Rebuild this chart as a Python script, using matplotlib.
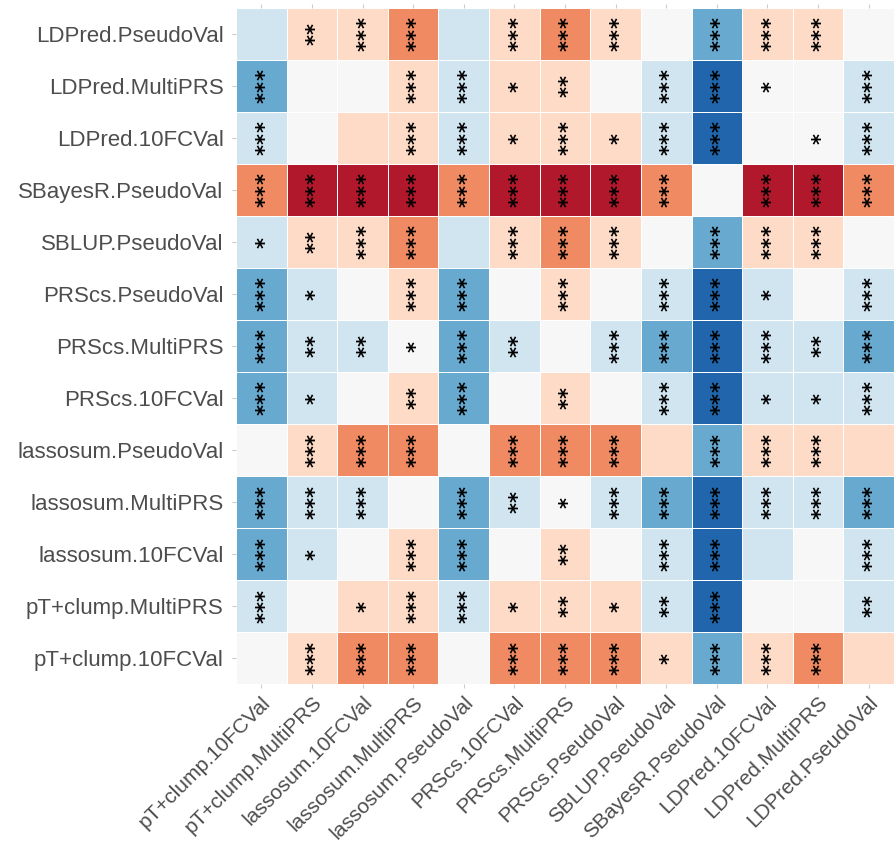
import numpy as np
import matplotlib
matplotlib.use("Agg")
import matplotlib.pyplot as plt
from matplotlib.colors import ListedColormap, BoundaryNorm

# methods, bottom-to-top on the y axis and left-to-right on the x axis
methods = ["pT+clump.10FCVal", "pT+clump.MultiPRS", "lassosum.10FCVal",
           "lassosum.MultiPRS", "lassosum.PseudoVal", "PRScs.10FCVal",
           "PRScs.MultiPRS", "PRScs.PseudoVal", "SBLUP.PseudoVal",
           "SBayesR.PseudoVal", "LDPred.10FCVal", "LDPred.MultiPRS",
           "LDPred.PseudoVal"]

# colour level per cell (rows listed top to bottom), -3 = strong blue ... 3 = strong red
levels = [
    [-1, 1, 1, 2, -1, 1, 2, 1, 0, -2, 1, 1, 0],      # LDPred.PseudoVal
    [-2, 0, 0, 1, -1, 1, 1, 0, -1, -3, 0, 0, -1],    # LDPred.MultiPRS
    [-1, 0, 1, 1, -1, 1, 1, 1, -1, -3, 0, 0, -1],    # LDPred.10FCVal
    [2, 3, 3, 3, 2, 3, 3, 3, 2, 0, 3, 3, 2],         # SBayesR.PseudoVal
    [-1, 1, 1, 2, -1, 1, 2, 1, 0, -2, 1, 1, 0],      # SBLUP.PseudoVal
    [-2, -1, 0, 1, -2, 0, 1, 0, -1, -3, -1, 0, -1],  # PRScs.PseudoVal
    [-2, -1, -1, 0, -2, -1, 0, -1, -2, -3, -1, -1, -2],  # PRScs.MultiPRS
    [-2, -1, 0, 1, -2, 0, 1, 0, -1, -3, -1, -1, -1],  # PRScs.10FCVal
    [0, 1, 2, 2, 0, 2, 2, 2, 1, -2, 1, 1, 1],        # lassosum.PseudoVal
    [-2, -1, -1, 0, -2, -1, 0, -1, -2, -3, -1, -1, -2],  # lassosum.MultiPRS
    [-2, -1, 0, 1, -2, 0, 1, 0, -1, -3, -1, 0, -1],  # lassosum.10FCVal
    [-1, 0, 1, 1, -1, 1, 1, 1, -1, -3, 0, 0, -1],    # pT+clump.MultiPRS
    [0, 1, 2, 2, 0, 2, 2, 2, 1, -2, 1, 2, 1],        # pT+clump.10FCVal
]

# number of significance stars per cell (same row order)
stars = [
    [0, 2, 3, 3, 0, 3, 3, 3, 0, 3, 3, 3, 0],
    [3, 0, 0, 3, 3, 1, 2, 0, 3, 3, 1, 0, 3],
    [3, 0, 0, 3, 3, 1, 3, 1, 3, 3, 0, 1, 3],
    [3, 3, 3, 3, 3, 3, 3, 3, 3, 0, 3, 3, 3],
    [1, 2, 3, 3, 0, 3, 3, 3, 0, 3, 3, 3, 0],
    [3, 1, 0, 3, 3, 0, 3, 0, 3, 3, 1, 0, 3],
    [3, 2, 2, 1, 3, 2, 0, 3, 3, 3, 3, 2, 3],
    [3, 1, 0, 2, 3, 0, 2, 0, 3, 3, 1, 1, 3],
    [0, 3, 3, 3, 0, 3, 3, 3, 0, 3, 3, 3, 0],
    [3, 3, 3, 0, 3, 2, 1, 3, 3, 3, 3, 3, 3],
    [3, 1, 0, 3, 3, 0, 2, 0, 3, 3, 0, 0, 3],
    [3, 0, 1, 3, 3, 1, 2, 1, 2, 3, 0, 0, 2],
    [0, 3, 3, 3, 0, 3, 3, 3, 1, 3, 3, 3, 0],
]

palette = ["#2166AC", "#67A9CF", "#D1E5F0", "#F7F7F7",
           "#FDDBC7", "#EF8A62", "#B2182B"]

lv = np.array(levels)[::-1]      # flip so row 0 is the bottom
st = np.array(stars)[::-1]
n = len(methods)

cmap = ListedColormap(palette)
norm = BoundaryNorm(np.arange(-3.5, 4.5, 1), cmap.N)

fig = plt.figure(figsize=(8.94, 8.5), dpi=100)
ax = fig.add_axes([0.264, 0.195, 0.736, 0.7955])

ax.pcolormesh(np.arange(n + 1) - 0.5, np.arange(n + 1) - 0.5, lv,
              cmap=cmap, norm=norm, edgecolors="#FFFFFF", linewidth=0.5)

# stars stacked vertically, one text per star
gap = 0.215
for i in range(n):
    for j in range(n):
        m = st[i, j]
        for k in range(m):
            ax.text(j + 0.075, i + (k - (m - 1) / 2) * gap, "*", rotation=90,
                    ha="center", va="center", fontsize=15,
                    family="DejaVu Sans", fontweight="bold", color="black")

ax.set_xlim(-0.5, n - 0.5)
ax.set_ylim(-0.5, n - 0.5)
ax.set_xticks(range(n))
ax.set_yticks(range(n))
ax.set_xticklabels(methods, rotation=45, ha="right", va="top",
                   rotation_mode="anchor", fontsize=15,
                   family="Liberation Sans", color="#4D4D4D")
ax.set_yticklabels(methods, fontsize=16, family="Liberation Sans",
                   color="#4D4D4D")
ax.tick_params(length=3, width=0.8, color="#CCCCCC", top=True)
ax.tick_params(axis="y", pad=6)
ax.tick_params(axis="x", pad=3)
for s in ax.spines.values():
    s.set_visible(False)

fig.savefig("out.png", dpi=100)
